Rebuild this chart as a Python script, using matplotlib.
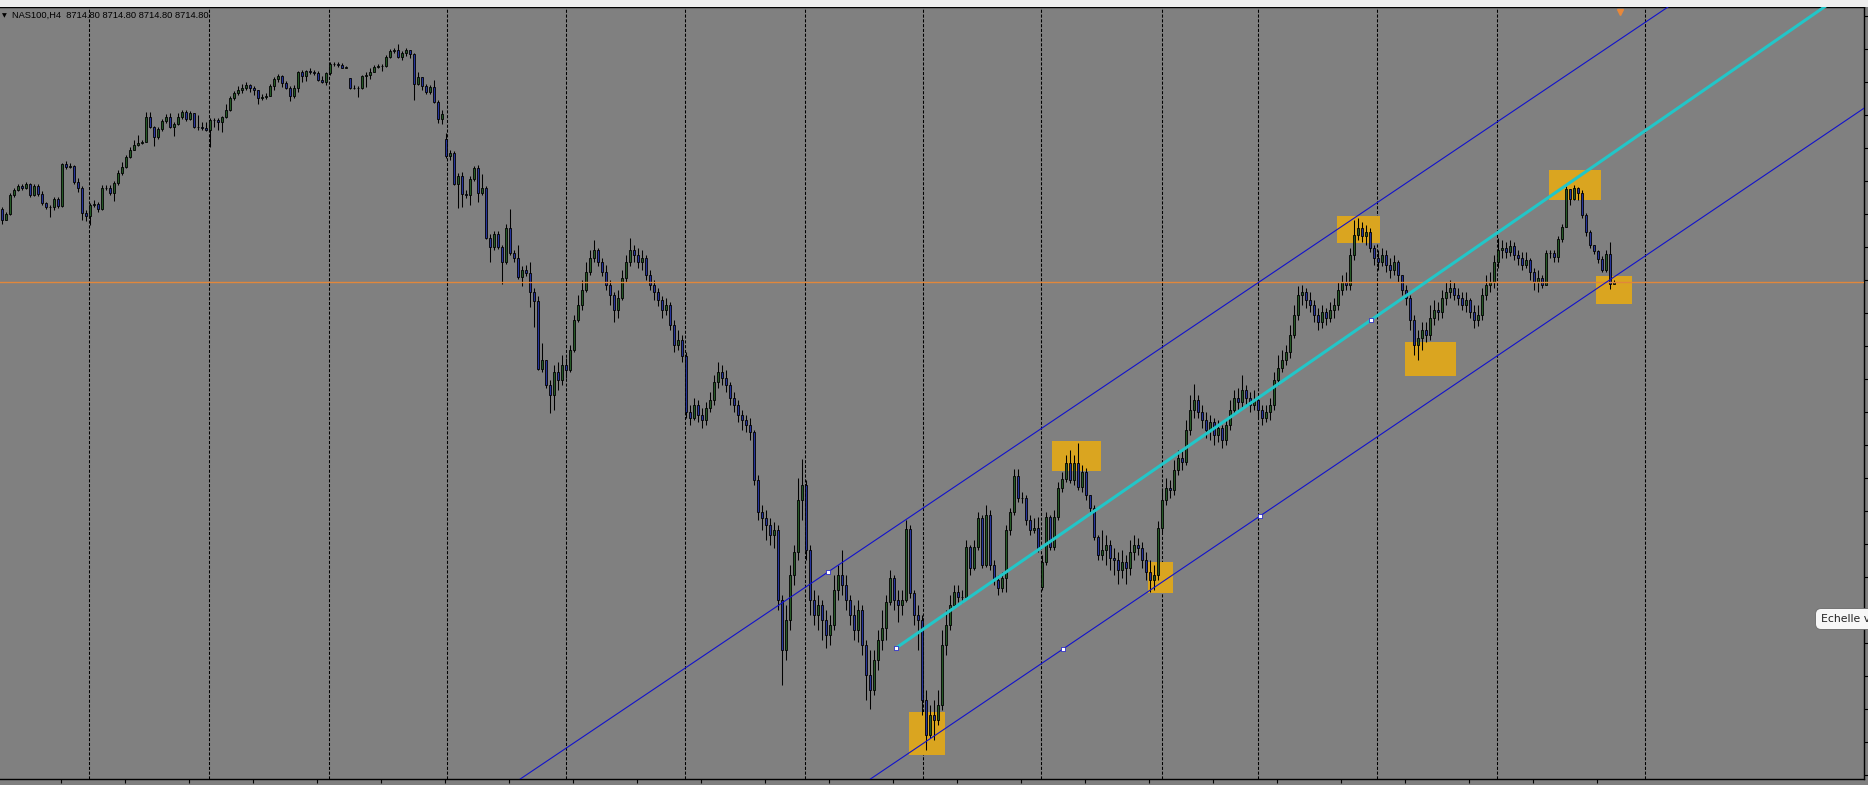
import matplotlib
matplotlib.use("Agg")
import matplotlib.pyplot as plt
from matplotlib.patches import Rectangle
import numpy as np

# ---------------- NAS100 H4 candles ----------------
bid = 8714.80
first_open = 9007

closes = [
    8963, 8987, 9063, 9083, 9099, 9091, 9107, 9063, 9099, 9067,
    9031, 9015, 9015, 9047, 9019, 9187, 9175, 9179, 9115, 9091,
    8991, 8979, 9023, 9027, 9007, 9091, 9091, 9071, 9111, 9151,
    9175, 9215, 9243, 9263, 9271, 9275, 9375, 9335, 9295, 9327,
    9359, 9375, 9335, 9347, 9375, 9395, 9367, 9391, 9335, 9335,
    9331, 9323, 9363, 9363, 9355, 9375, 9403, 9451, 9471, 9483,
    9491, 9503, 9491, 9483, 9451, 9455, 9459, 9499, 9527, 9539,
    9511, 9491, 9459, 9491, 9555, 9539, 9559, 9555, 9551, 9523,
    9515, 9551, 9587, 9587, 9583, 9571, 9575, 9491, 9491, 9491,
    9539, 9543, 9555, 9575, 9579, 9579, 9615, 9639, 9643, 9615,
    9631, 9643, 9627, 9507, 9535, 9499, 9475, 9495, 9435, 9367,
    9387, 9219, 9231, 9107, 9139, 9067, 9063, 9127, 9171, 9071,
    9091, 8891, 8855, 8907, 8855, 8795, 8931, 8831, 8811, 8735,
    8763, 8751, 8675, 8639, 8367, 8403, 8303, 8263, 8355, 8323,
    8383, 8363, 8443, 8563, 8623, 8683, 8755, 8811, 8843, 8795,
    8755, 8703, 8663, 8603, 8651, 8731, 8795, 8843, 8823, 8795,
    8811, 8743, 8703, 8675, 8643, 8603, 8623, 8543, 8463, 8483,
    8419, 8195, 8171, 8223, 8183, 8163, 8211, 8243, 8315, 8355,
    8331, 8303, 8251, 8223, 8183, 8163, 8143, 8115, 7923, 7795,
    7771, 7743, 7703, 7723, 7443, 7243, 7363, 7543, 7635, 7843,
    7903, 7643, 7443, 7383, 7423, 7363, 7303, 7343, 7483, 7543,
    7503, 7443, 7383, 7323, 7403, 7263, 7143, 7083, 7203, 7283,
    7331, 7435, 7531, 7443, 7423, 7443, 7727, 7471, 7383, 7363,
    7043, 6903, 6983, 6963, 7023, 7263, 7343, 7423, 7475, 7455,
    7455, 7655, 7571, 7655, 7771, 7583, 7783, 7583, 7523, 7491,
    7531, 7723, 7795, 7939, 7851, 7851, 7763, 7723, 7731, 7651,
    7595, 7775, 7655, 7775, 7891, 7927, 7991, 7923, 7991, 7895,
    7955, 7863, 7811, 7695, 7623, 7643, 7663, 7611, 7603, 7563,
    7595, 7571, 7635, 7663, 7651, 7603, 7555, 7523, 7543, 7731,
    7843, 7891, 7883, 7963, 8011, 7995, 8123, 8203, 8243, 8195,
    8163, 8123, 8155, 8103, 8131, 8083, 8143, 8203, 8251, 8235,
    8283, 8251, 8223, 8243, 8203, 8171, 8195, 8223, 8323, 8371,
    8403, 8435, 8503, 8583, 8663, 8675, 8643, 8623, 8583, 8555,
    8595, 8571, 8603, 8623, 8683, 8715, 8703, 8823, 8903, 8931,
    8899, 8915, 8851, 8811, 8795, 8823, 8783, 8763, 8795, 8743,
    8683, 8651, 8563, 8463, 8491, 8523, 8503, 8571, 8603, 8595,
    8651, 8675, 8691, 8663, 8651, 8623, 8643, 8595, 8563, 8583,
    8663, 8703, 8715, 8795, 8843, 8851, 8835, 8859, 8823, 8811,
    8783, 8803, 8755, 8715, 8731, 8703, 8831, 8831, 8815, 8887,
    8935, 9087, 9047, 9091, 9071, 8983, 8915, 8863, 8839, 8807,
    8763, 8827, 8707, 8714.8,
]

highs = [
    9015, 8995, 9071, 9091, 9107, 9107, 9115, 9111, 9107, 9107,
    9079, 9035, 9023, 9055, 9055, 9191, 9199, 9191, 9183, 9131,
    9099, 9003, 9031, 9043, 9035, 9103, 9103, 9103, 9119, 9163,
    9195, 9223, 9255, 9283, 9303, 9283, 9395, 9395, 9339, 9335,
    9367, 9387, 9391, 9355, 9391, 9403, 9403, 9399, 9391, 9383,
    9355, 9355, 9371, 9371, 9371, 9379, 9427, 9459, 9479, 9499,
    9507, 9515, 9507, 9499, 9483, 9467, 9471, 9507, 9535, 9547,
    9543, 9519, 9499, 9503, 9559, 9563, 9563, 9571, 9563, 9559,
    9539, 9555, 9595, 9595, 9595, 9591, 9579, 9531, 9503, 9499,
    9543, 9555, 9571, 9583, 9587, 9587, 9623, 9647, 9651, 9667,
    9639, 9651, 9643, 9631, 9555, 9535, 9507, 9503, 9523, 9443,
    9403, 9311, 9243, 9239, 9151, 9155, 9083, 9139, 9179, 9183,
    9147, 9099, 8907, 8919, 8919, 8863, 8947, 9007, 8843, 8863,
    8779, 8783, 8795, 8691, 8659, 8471, 8403, 8323, 8383, 8395,
    8423, 8411, 8463, 8583, 8663, 8723, 8795, 8843, 8883, 8851,
    8811, 8783, 8723, 8675, 8683, 8763, 8823, 8891, 8863, 8851,
    8843, 8823, 8763, 8723, 8691, 8659, 8651, 8635, 8563, 8523,
    8503, 8435, 8223, 8251, 8243, 8211, 8235, 8275, 8343, 8395,
    8383, 8363, 8315, 8275, 8243, 8203, 8183, 8171, 8123, 7943,
    7823, 7803, 7771, 7755, 7743, 7463, 7423, 7583, 7663, 7931,
    8007, 7923, 7663, 7483, 7463, 7443, 7403, 7383, 7543, 7583,
    7643, 7543, 7463, 7423, 7443, 7423, 7283, 7243, 7243, 7323,
    7403, 7463, 7563, 7543, 7483, 7483, 7763, 7743, 7483, 7423,
    7383, 7083, 7023, 7043, 7083, 7323, 7403, 7463, 7503, 7503,
    7483, 7683, 7663, 7683, 7795, 7783, 7823, 7803, 7603, 7543,
    7555, 7743, 7811, 7967, 7967, 7875, 7863, 7783, 7771, 7775,
    7623, 7795, 7783, 7803, 7915, 7955, 8023, 8043, 8023, 8071,
    7983, 7971, 7863, 7823, 7703, 7723, 7703, 7683, 7651, 7635,
    7643, 7623, 7683, 7703, 7691, 7675, 7635, 7603, 7583, 7759,
    7891, 7931, 7923, 8003, 8043, 8043, 8163, 8263, 8307, 8263,
    8223, 8195, 8183, 8171, 8163, 8143, 8171, 8243, 8283, 8291,
    8343, 8303, 8275, 8283, 8263, 8223, 8223, 8251, 8355, 8423,
    8443, 8463, 8543, 8623, 8699, 8703, 8691, 8675, 8643, 8611,
    8623, 8611, 8635, 8651, 8715, 8743, 8755, 8851, 8963, 8971,
    8955, 8943, 8931, 8863, 8843, 8851, 8843, 8811, 8823, 8803,
    8743, 8703, 8663, 8583, 8523, 8555, 8555, 8623, 8643, 8635,
    8683, 8715, 8723, 8715, 8691, 8675, 8675, 8651, 8623, 8623,
    8691, 8743, 8755, 8823, 8891, 8883, 8875, 8883, 8875, 8843,
    8835, 8835, 8811, 8771, 8763, 8743, 8843, 8843, 8843, 8899,
    8947, 9099, 9083, 9103, 9095, 9083, 8991, 8923, 8855, 8843,
    8819, 8843, 8875, 8723,
]

lows = [
    8947, 8963, 8983, 9055, 9079, 9083, 9087, 9055, 9059, 9059,
    9023, 9007, 8975, 9003, 9011, 9015, 9167, 9171, 9107, 9075,
    8963, 8959, 8943, 9015, 8995, 9003, 9083, 9063, 9039, 9103,
    9143, 9171, 9211, 9243, 9259, 9267, 9275, 9331, 9259, 9287,
    9319, 9351, 9331, 9299, 9343, 9367, 9359, 9363, 9331, 9323,
    9323, 9319, 9255, 9335, 9323, 9315, 9371, 9399, 9443, 9463,
    9471, 9483, 9475, 9463, 9427, 9443, 9447, 9463, 9483, 9515,
    9495, 9487, 9439, 9451, 9475, 9515, 9519, 9547, 9543, 9519,
    9511, 9503, 9543, 9579, 9575, 9571, 9571, 9487, 9487, 9455,
    9487, 9495, 9527, 9555, 9571, 9559, 9575, 9611, 9631, 9611,
    9603, 9619, 9611, 9443, 9503, 9483, 9467, 9467, 9431, 9351,
    9347, 9211, 9203, 9103, 9011, 9015, 9051, 9023, 9119, 9035,
    9063, 8887, 8795, 8843, 8847, 8707, 8787, 8823, 8795, 8727,
    8699, 8739, 8615, 8535, 8363, 8355, 8291, 8191, 8203, 8283,
    8303, 8331, 8355, 8435, 8555, 8603, 8675, 8743, 8795, 8779,
    8739, 8683, 8623, 8555, 8571, 8643, 8715, 8779, 8795, 8771,
    8763, 8723, 8683, 8643, 8619, 8571, 8583, 8523, 8435, 8443,
    8395, 8171, 8143, 8163, 8155, 8131, 8143, 8195, 8223, 8291,
    8303, 8275, 8223, 8195, 8155, 8123, 8115, 8083, 7903, 7763,
    7723, 7683, 7663, 7651, 7403, 7103, 7203, 7323, 7503, 7603,
    7763, 7603, 7383, 7343, 7323, 7283, 7251, 7263, 7323, 7443,
    7463, 7403, 7343, 7283, 7275, 7223, 7043, 7007, 7063, 7163,
    7243, 7283, 7423, 7403, 7355, 7383, 7435, 7451, 7343, 7243,
    6983, 6843, 6891, 6883, 6943, 7003, 7223, 7323, 7423, 7435,
    7431, 7443, 7543, 7563, 7643, 7571, 7575, 7563, 7503, 7463,
    7475, 7475, 7703, 7783, 7835, 7831, 7743, 7703, 7711, 7635,
    7483, 7583, 7643, 7643, 7763, 7875, 7915, 7911, 7903, 7883,
    7875, 7843, 7795, 7683, 7603, 7603, 7583, 7563, 7543, 7507,
    7531, 7507, 7543, 7603, 7623, 7571, 7523, 7475, 7483, 7523,
    7715, 7823, 7851, 7863, 7943, 7963, 7983, 8103, 8171, 8171,
    8131, 8091, 8083, 8063, 8075, 8051, 8063, 8123, 8183, 8203,
    8211, 8223, 8195, 8203, 8171, 8143, 8155, 8163, 8203, 8303,
    8355, 8383, 8411, 8491, 8563, 8623, 8611, 8595, 8555, 8523,
    8531, 8543, 8555, 8571, 8603, 8663, 8683, 8683, 8803, 8883,
    8875, 8863, 8835, 8783, 8763, 8779, 8755, 8731, 8743, 8715,
    8663, 8623, 8523, 8423, 8403, 8443, 8475, 8483, 8543, 8563,
    8571, 8623, 8651, 8643, 8623, 8603, 8595, 8571, 8531, 8539,
    8563, 8643, 8675, 8691, 8771, 8811, 8811, 8819, 8803, 8783,
    8763, 8771, 8723, 8683, 8675, 8691, 8763, 8811, 8795, 8795,
    8875, 8939, 9023, 9043, 9043, 8971, 8899, 8851, 8827, 8791,
    8755, 8755, 8687, 8707,
]

# weekend gaps: bars whose open is not the previous close
gap_opens = {87: 9531, 111: 9287, 260: 7495}

# vertical grid (weekly separators), in bar index
grid_bars = [21.75, 51.75, 81.75, 111.25, 141, 170.75, 200.75, 230.25,
             259.75, 290, 314, 343.75, 373.75, 410.75]

tick_labels = ["31 Jan 2020", "4 Feb 12:00", "7 Feb 04:00", "11 Feb 20:00",
               "14 Feb 12:00", "19 Feb 04:00", "21 Feb 20:00", "26 Feb 12:00",
               "2 Mar 08:00", "5 Mar 00:00", "9 Mar 16:00", "12 Mar 08:00",
               "17 Mar 00:00", "19 Mar 16:00", "24 Mar 12:00", "27 Mar 04:00",
               "31 Mar 20:00", "3 Apr 12:00", "8 Apr 04:00", "13 Apr 20:00",
               "16 Apr 12:00", "21 Apr 04:00", "23 Apr 20:00", "28 Apr 12:00",
               "1 May 04:00"]

# trendlines: (bar, price) anchors
upper_line = [(206.5, 7555), (415.75, 9807)]
lower_line = [(265.25, 7247), (314.5, 7779)]
mid_line = [(223.5, 7251), (342.25, 8563)]

# highlight boxes: bar from, bar to, price low, price high
boxes = [
    (226.75, 235.75, 6823, 6995),
    (262.5, 274.75, 7959, 8079),
    (286.5, 292.75, 7471, 7595),
    (333.75, 344.5, 8871, 8979),
    (350.75, 363.5, 8339, 8475),
    (386.75, 399.75, 9043, 9163),
    (398.5, 407.5, 8627, 8739),
]

# --------------------------------------------------------------------------
W, H = 1868, 785
BG = "#808080"
fig = plt.figure(figsize=(W / 100, H / 100), dpi=100, facecolor=BG)
ax = fig.add_axes([0, 6 / H, 1864 / W, 772 / H])
ax.set_facecolor(BG)
ax.set_xlim(-0.5, 465.5)
ax.set_ylim(6727, 9815)

# top toolbar strip
fig.patches.append(Rectangle((0, 778 / H), 1, 7 / H, transform=fig.transFigure,
                             fc="#eeeeee", ec="none", zorder=0))

n = min(len(closes), len(highs), len(lows))
x = np.arange(n)
c = np.array(closes[:n], dtype=float)
h = np.array(highs[:n], dtype=float)
l = np.array(lows[:n], dtype=float)
o = np.r_[first_open, c[:-1]]
for k, v in gap_opens.items():
    o[k] = v

for g in grid_bars:
    ax.axvline(g, color="black", lw=0.75, ls=(0, (3, 1.6)), zorder=0.5)

for b0, b1, p0, p1 in boxes:
    ax.add_patch(Rectangle((b0, p0), b1 - b0, p1 - p0, fc="#daa520", ec="none", zorder=1))

top = np.maximum(h, np.maximum(o, c))
bot = np.minimum(l, np.minimum(o, c))
ax.vlines(x, bot, top, color="black", lw=0.75, zorder=2)
up = c >= o
ax.bar(x[up], c[up] - o[up], bottom=o[up], width=0.6, color="#245a26",
       edgecolor="black", linewidth=0.6, zorder=3)
ax.bar(x[~up], c[~up] - o[~up], bottom=o[~up], width=0.6, color="#24339c",
       edgecolor="black", linewidth=0.6, zorder=3)

# bid line
ax.axhline(bid, color="#e0873c", lw=1.0, zorder=4)

# channel lines
blue = "#1212cc"
ax.axline(upper_line[0], upper_line[1], color=blue, lw=0.8, zorder=4)
ax.axline(lower_line[0], lower_line[1], color=blue, lw=0.8, zorder=4)
(x1, y1), (x2, y2) = mid_line
x_end = 470
ax.plot([x1, x_end], [y1, y1 + (y2 - y1) / (x2 - x1) * (x_end - x1)],
        color="#22c6c8", lw=2.2, solid_capstyle="butt", zorder=5)

pts = [upper_line[0]] + lower_line + mid_line
ax.plot([p[0] for p in pts], [p[1] for p in pts], "s", ms=2.6, mfc="white",
        mec=blue, mew=0.5, zorder=6)

# chart-shift marker
ax.plot(404.5, 9795, marker="v", color="#e8883a", ms=4, zorder=6)

# axes styling
ax.spines["left"].set_visible(False)
for s in ["top", "bottom", "right"]:
    ax.spines[s].set_color("black")
    ax.spines[s].set_linewidth(1.0)

ticks = [14.75 + 16 * k for k in range(len(tick_labels))]
ax.set_xticks(ticks)
ax.set_xticklabels(tick_labels, fontsize=7, ha="left")
ax.tick_params(axis="x", direction="out", length=3, width=0.8, pad=1, colors="black")
ax.yaxis.tick_right()
ax.set_yticks(np.arange(9779, 6727, -132))
ax.tick_params(axis="y", direction="out", length=3, width=0.8, labelright=False)

# header text
fig.text(2 / W, 1 - 15.5 / H, "▼", fontsize=4.5, va="center", color="black")
fig.text(12 / W, 1 - 15.5 / H,
         "NAS100,H4  %.2f %.2f %.2f %.2f" % (bid, bid, bid, bid),
         fontsize=6.7, family="Liberation Sans", va="center", color="black")

# tooltip cut by the right edge
fig.text(1821 / W, 1 - 619 / H, "Echelle verticale", fontsize=7.8,
         family="DejaVu Sans", va="center", color="#222222",
         bbox=dict(boxstyle="round,pad=0.5", fc="#f7f7f7", ec="#6a6a6a", lw=0.6))

fig.savefig("out.png", dpi=100, facecolor=fig.get_facecolor())
